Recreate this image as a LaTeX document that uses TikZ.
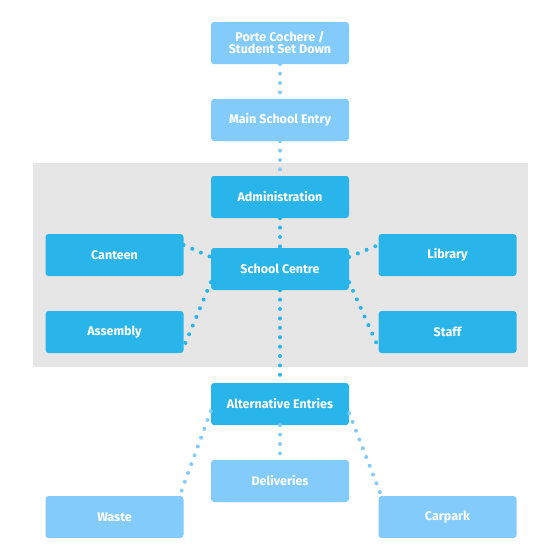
\documentclass[tikz,border=0pt]{standalone}
\usepackage{fontspec}
\setmainfont{Fira Sans}
\usetikzlibrary{positioning}
\definecolor{boxdark}{HTML}{29B5EA}
\definecolor{boxlight}{HTML}{82CBFA}
\definecolor{zonegrey}{HTML}{E6E6E6}
\begin{document}
\begin{tikzpicture}[x=1pt, y=-1pt,
	room/.style={rectangle, rounded corners=3pt, minimum width=138pt, minimum height=42pt, inner sep=2pt, text=white, font=\fontsize{12.5}{12}\selectfont\bfseries, align=center},
	roomdark/.style={room, fill=boxdark},
	roomlight/.style={room, fill=boxlight},
	link/.style={line width=4pt, line cap=round, dash pattern=on 0pt off 9.4pt},
	linkdark/.style={link, draw=boxdark},
	linklight/.style={link, draw=boxlight}]
	\useasboundingbox (0,0) rectangle (560,560);
	\fill[zonegrey] (33,163) rectangle (528,367);
	\node[roomlight] (pc) at (280,43) {Porte Cochere /\\Student Set Down};
	\node[roomlight] (mse) at (280,120) {Main School Entry};
	\node[roomdark] (adm) at (280,197) {Administration};
	\node[roomdark] (ctr) at (280,269) {School Centre};
	\node[roomdark] (cnt) at (114.5,255) {Canteen};
	\node[roomdark] (lib) at (447.5,255) {Library};
	\node[roomdark] (asm) at (114.5,332) {Assembly};
	\node[roomdark] (stf) at (447.5,332) {Staff};
	\node[roomdark] (alt) at (280,404) {Alternative Entries};
	\node[roomlight] (del) at (280,481) {Deliveries};
	\node[roomlight] (wst) at (114.5,517) {Waste};
	\node[roomlight] (cpk) at (447.5,517) {Carpark};
	\path[linklight]
	(pc) edge (mse)
	(mse) edge (adm)
	(alt) edge (del)
	([yshift=14pt]alt.south west) edge ([xshift=-4pt]wst.north east)
	([yshift=12pt]alt.south east) edge ([xshift=3pt]cpk.north west);
	\path[linkdark]
	(adm) edge (ctr)
	(ctr) edge (alt)
	([yshift=10pt]cnt.east) edge ([yshift=12pt]ctr.west)
	([yshift=12pt]ctr.east) edge ([yshift=10pt]lib.west)
	([yshift=8pt]ctr.south west) edge ([yshift=6pt]asm.south east)
	([yshift=8pt]ctr.south east) edge ([yshift=6pt]stf.south west);
\end{tikzpicture}
\end{document}
